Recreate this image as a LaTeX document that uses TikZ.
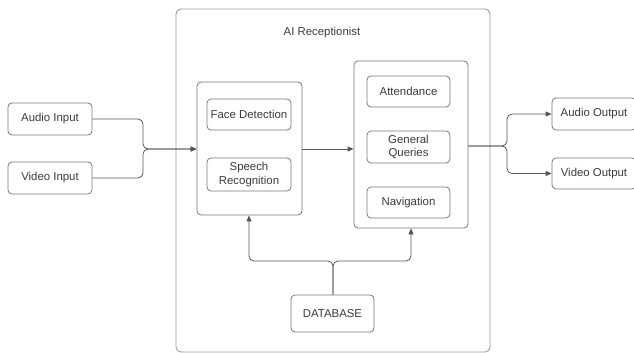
\documentclass[tikz,border=0pt]{standalone}
\usepackage{fontspec}
\setmainfont{Liberation Sans}
\usetikzlibrary{arrows.meta}
\definecolor{boxline}{HTML}{777777}
\definecolor{outerline}{HTML}{9A9A9A}
\definecolor{txt}{HTML}{3A3A3A}
\definecolor{conn}{HTML}{555555}
\tikzset{
  box/.style={draw=boxline, line width=0.8pt, rounded corners=4pt, fill=white,
    text=txt, font=\fontsize{11.4}{13.5}\selectfont, align=center, inner sep=0pt},
  conn/.style={draw=conn, line width=0.8pt, rounded corners=5pt,
    -{Triangle[length=6pt,width=5pt]}},
  plain/.style={draw=conn, line width=0.8pt, rounded corners=5pt},
}
\begin{document}
\begin{tikzpicture}[x=1pt,y=-1pt]
\useasboundingbox (0,0) rectangle (634,353);
% outer container
\node[draw=outerline, line width=0.9pt, rounded corners=5pt, minimum width=314pt, minimum height=343pt, inner sep=0pt] (outer) at (333,180.5) {};
\node[text=txt, font=\fontsize{11.4}{13.5}\selectfont] (title) at (322,33) {AI Receptionist};
% inputs
\node[box, minimum width=84pt, minimum height=32pt] (audioin) at (50,119) {Audio Input};
\node[box, minimum width=84pt, minimum height=32pt] (videoin) at (50,178) {Video Input};
% left container
\node[box, minimum width=105pt, minimum height=133pt] (left) at (249.5,148.5) {};
\node[box, minimum width=84pt, minimum height=31pt] (face) at (249,114.5) {Face Detection};
\node[box, minimum width=84pt, minimum height=33pt] (speech) at (249,174.5) {Speech\\Recognition};
% right container
\node[box, minimum width=114pt, minimum height=167pt] (right) at (411,144.5) {};
\node[box, minimum width=83pt, minimum height=31pt] (attend) at (408.5,91.5) {Attendance};
\node[box, minimum width=83pt, minimum height=32pt] (queries) at (408.5,147) {General\\Queries};
\node[box, minimum width=83pt, minimum height=31pt] (nav) at (408.5,202.5) {Navigation};
% database
\node[box, minimum width=83pt, minimum height=37pt] (db) at (332.5,313.5) {DATABASE};
% outputs
\node[box, minimum width=84pt, minimum height=32pt] (audioout) at (594,114) {Audio Output};
\node[box, minimum width=84pt, minimum height=31pt] (videoout) at (594,173.5) {Video Output};
% junction coordinates
\coordinate (jin) at (143,149);
\coordinate (jout) at (507,146);
\coordinate (jdb) at (333,261);
\coordinate (dl) at (249,261);
\coordinate (dr) at (411,261);
% input connectors
\draw[conn] (audioin.east) -| (jin) -- (jin -| left.west);
\draw[conn] (videoin.east) -| (jin) -- (jin -| left.west);
% left to right
\draw[conn] (left.east |- jin) -- (right.west |- jin);
% outputs
\draw[conn] (right.east |- jout) -- (jout) |- (audioout.west);
\draw[conn] (right.east |- jout) -- (jout) |- (videoout.west);
% database
\draw[conn] (db.north -| jdb) -- (jdb) -| (dl |- left.south);
\draw[conn] (db.north -| jdb) -- (jdb) -| (dr |- right.south);
\end{tikzpicture}
\end{document}
